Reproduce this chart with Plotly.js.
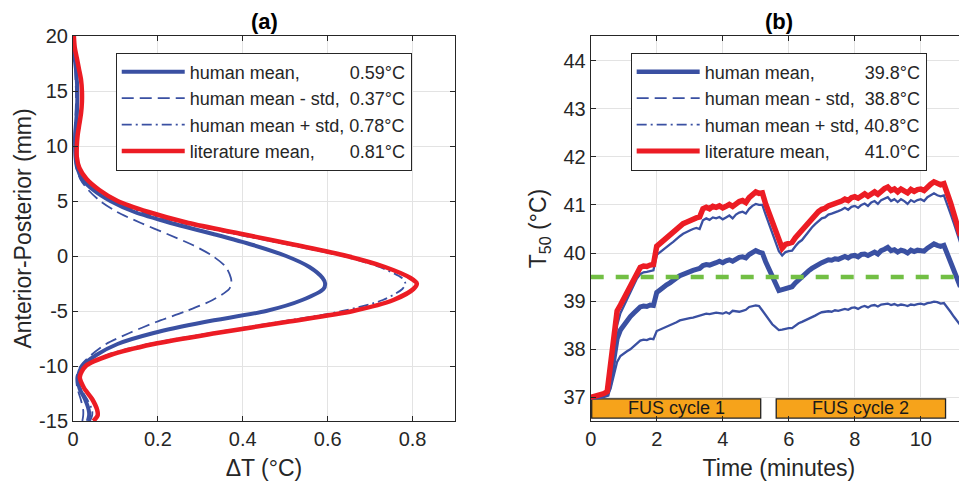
<!DOCTYPE html>
<html><head><meta charset="utf-8">
<script src="https://cdn.plot.ly/plotly-3.0.1.min.js"></script>
<style>html,body{margin:0;padding:0;overflow:hidden;background:#fff}#chart{width:980px;height:483px}</style>
</head><body><div id="chart"></div><script>
// ---------- Panel (a): temperature rise profile ----------
var apPos = [-15,-14.5,-14,-13,-12,-11,-10,-9,-8,-7,-6,-5,-4,-3,-2.5,-2,-1,0,1,2,3,4,5,6,7,8,9,10,11,12,13,14,15,16,17,18,19,20];
var dTHumanMean = [0.035,0.038,0.037,0.028,0.015,0.012,0.022,0.055,0.105,0.19,0.31,0.455,0.54,0.59,0.594,0.588,0.557,0.502,0.424,0.33,0.23,0.145,0.088,0.048,0.022,0.01,0.006,0.005,0.005,0.007,0.009,0.01,0.01,0.009,0.007,0.004,0.002,0.001];
var dTHumanMinus = [0.022,0.024,0.024,0.018,0.01,0.008,0.018,0.043,0.078,0.133,0.196,0.267,0.329,0.368,0.373,0.372,0.36,0.329,0.282,0.222,0.16,0.104,0.064,0.036,0.017,0.008,0.005,0.004,0.004,0.005,0.006,0.007,0.007,0.006,0.005,0.003,0.001,0.0];
var dTHumanPlus = [0.04,0.045,0.045,0.033,0.018,0.016,0.032,0.08,0.178,0.325,0.485,0.635,0.73,0.776,0.783,0.775,0.722,0.635,0.51,0.382,0.256,0.16,0.095,0.054,0.026,0.012,0.007,0.006,0.007,0.009,0.011,0.012,0.012,0.011,0.008,0.005,0.002,0.001];
var dTLiterature = [0.048,0.058,0.057,0.045,0.026,0.016,0.03,0.088,0.19,0.338,0.502,0.66,0.755,0.802,0.81,0.795,0.735,0.645,0.525,0.398,0.272,0.178,0.105,0.062,0.032,0.015,0.009,0.009,0.011,0.015,0.019,0.021,0.021,0.019,0.014,0.009,0.004,0.002];
var legendA = ["human mean,\u00A0\u00A0\u00A0\u00A0\u00A0\u00A0\u00A0\u00A0\u00A0\u00A00.59°C",
               "human mean - std,\u00A0\u00A00.37°C",
               "human mean + std,\u00A00.78°C",
               "literature mean,\u00A0\u00A0\u00A0\u00A0\u00A0\u00A0\u00A00.81°C"];
var aXTicks = [0,0.2,0.4,0.6,0.8];
var aXTickText = ["0","0.2","0.4","0.6","0.8"];
var aYTicks = [-15,-10,-5,0,5,10,15,20];
var aYTickText = ["-15","-10","-5","0","5","10","15","20"];

// ---------- Panel (b): T50 over time ----------
var timeMin = [0,0.1,0.2,0.3,0.4,0.5,0.6,0.7,0.8,0.9,1,1.1,1.2,1.3,1.4,1.5,1.6,1.7,1.8,1.9,2,2.1,2.2,2.3,2.4,2.5,2.6,2.7,2.8,2.9,3,3.1,3.2,3.3,3.4,3.5,3.6,3.7,3.8,3.9,4,4.1,4.2,4.3,4.4,4.5,4.6,4.7,4.8,4.9,5,5.1,5.2,5.3,5.4,5.5,5.6,5.7,5.8,5.9,6,6.1,6.2,6.3,6.4,6.5,6.6,6.7,6.8,6.9,7,7.1,7.2,7.3,7.4,7.5,7.6,7.7,7.8,7.9,8,8.1,8.2,8.3,8.4,8.5,8.6,8.7,8.8,8.9,9,9.1,9.2,9.3,9.4,9.5,9.6,9.7,9.8,9.9,10,10.1,10.2,10.3,10.4,10.5,10.6,10.7,10.8,10.9,11,11.1,11.2];
var t50HumanMean = [37.00,37.00,37.01,37.02,37.04,37.06,37.35,37.78,38.22,38.40,38.50,38.58,38.68,38.75,38.83,38.88,38.90,38.89,38.92,38.91,39.18,39.24,39.28,39.34,39.38,39.42,39.48,39.53,39.56,39.60,39.61,39.64,39.66,39.68,39.74,39.76,39.75,39.79,39.80,39.83,39.80,39.84,39.86,39.83,39.88,39.91,39.92,39.90,39.97,40.02,40.05,40.02,40.00,39.82,39.66,39.50,39.34,39.22,39.24,39.26,39.28,39.30,39.38,39.45,39.52,39.57,39.63,39.68,39.73,39.77,39.80,39.83,39.86,39.85,39.88,39.87,39.90,39.93,39.90,39.94,39.95,39.92,39.97,39.98,39.95,39.99,40.02,39.98,40.05,40.08,40.12,40.05,40.07,40.02,40.06,40.04,40.00,40.06,40.03,40.06,40.06,40.04,40.10,40.14,40.19,40.16,40.14,40.16,39.98,39.80,39.62,39.45,39.30];
var t50HumanMinus = [37.00,37.00,37.00,37.01,37.02,37.05,37.18,37.48,37.74,37.86,37.92,37.96,38.00,38.06,38.14,38.18,38.20,38.19,38.22,38.21,38.38,38.41,38.44,38.46,38.49,38.52,38.56,38.60,38.62,38.63,38.65,38.66,38.68,38.70,38.72,38.74,38.73,38.75,38.76,38.75,38.74,38.77,38.74,38.80,38.79,38.78,38.80,38.82,38.88,38.90,38.91,38.90,38.80,38.72,38.61,38.52,38.46,38.40,38.41,38.43,38.44,38.44,38.50,38.54,38.57,38.60,38.63,38.67,38.70,38.74,38.77,38.78,38.79,38.78,38.81,38.80,38.82,38.84,38.82,38.86,38.87,38.84,38.88,38.90,38.87,38.91,38.92,38.89,38.93,38.94,38.95,38.92,38.94,38.91,38.93,38.92,38.90,38.93,38.92,38.94,38.95,38.93,38.96,38.97,38.99,38.98,38.95,38.96,38.88,38.78,38.68,38.58,38.50];
var t50HumanPlus = [36.99,37.00,37.01,37.03,37.05,37.08,37.45,37.98,38.50,38.75,38.90,39.04,39.20,39.34,39.47,39.56,39.60,39.61,39.63,39.64,39.96,40.02,40.08,40.13,40.18,40.23,40.30,40.35,40.40,40.44,40.47,40.50,40.52,40.50,40.68,40.72,40.69,40.74,40.72,40.75,40.70,40.74,40.78,40.72,40.80,40.84,40.86,40.82,40.92,40.98,41.02,41.00,41.00,40.80,40.60,40.42,40.22,40.04,39.95,40.02,40.04,40.05,40.14,40.22,40.27,40.36,40.44,40.53,40.60,40.66,40.72,40.74,40.80,40.82,40.84,40.87,40.90,40.94,40.90,40.96,40.98,40.94,41.00,41.03,40.98,41.05,41.08,41.02,41.10,41.13,41.16,41.08,41.12,41.06,41.12,41.08,41.02,41.10,41.06,41.10,41.12,41.08,41.16,41.20,41.24,41.20,41.18,41.20,41.03,40.82,40.62,40.40,40.20];
var t50Literature = [37.00,37.02,37.03,37.06,37.08,37.12,37.70,38.25,38.80,38.92,39.05,39.18,39.34,39.48,39.63,39.70,39.73,39.72,39.75,39.76,40.14,40.20,40.27,40.33,40.37,40.43,40.50,40.55,40.61,40.64,40.68,40.70,40.73,40.75,40.92,40.95,40.92,40.97,40.95,40.98,40.94,40.97,41.01,40.97,41.03,41.07,41.09,41.05,41.15,41.22,41.27,41.24,41.25,41.02,40.82,40.62,40.42,40.22,40.10,40.18,40.21,40.22,40.32,40.40,40.46,40.55,40.63,40.72,40.80,40.86,40.91,40.93,40.98,41.00,41.03,41.05,41.08,41.12,41.09,41.15,41.17,41.14,41.20,41.23,41.18,41.24,41.27,41.22,41.30,41.34,41.37,41.30,41.33,41.27,41.33,41.30,41.25,41.32,41.28,41.32,41.33,41.30,41.38,41.43,41.48,41.46,41.42,41.44,41.28,41.05,40.82,40.58,40.36];
var thresholdX = [0, 11.4];
var thresholdY = [39.5, 39.5];
var fusLabels = ["FUS cycle 1", "FUS cycle 2"];
var fusStart = [0.03, 5.62];
var fusEnd = [5.15, 10.75];
var fusLow = 36.57, fusHigh = 36.97;
var legendB = ["human mean,\u00A0\u00A0\u00A0\u00A0\u00A0\u00A0\u00A0\u00A0\u00A0\u00A039.8°C",
               "human mean - std,\u00A0\u00A038.8°C",
               "human mean + std,\u00A040.8°C",
               "literature mean,\u00A0\u00A0\u00A0\u00A0\u00A0\u00A0\u00A041.0°C"];
var bXTicks = [0,2,4,6,8,10];
var bYTicks = [37,38,39,40,41,42,43,44];

// ---------- styles ----------
var BLUE = "#3A50A2", RED = "#EC1C24", GREEN = "#72BF44", ORANGE = "#F6A31B";
var AX = "#262626", GRID = "#E3E3E3";
var FONT = "Liberation Sans, Arial, Helvetica, sans-serif";

var traces = [
  {x: dTHumanMean, y: apPos, xaxis:"x", yaxis:"y", mode:"lines", name: legendA[0], legend:"legend",
   line:{color:BLUE, width:4, shape:"spline", smoothing:0.8}},
  {x: dTHumanMinus, y: apPos, xaxis:"x", yaxis:"y", mode:"lines", name: legendA[1], legend:"legend",
   line:{color:BLUE, width:1.8, dash:"12px,6px", shape:"spline", smoothing:0.8}},
  {x: dTHumanPlus, y: apPos, xaxis:"x", yaxis:"y", mode:"lines", name: legendA[2], legend:"legend",
   line:{color:BLUE, width:1.8, dash:"10px,4px,2px,4px", shape:"spline", smoothing:0.8}},
  {x: dTLiterature, y: apPos, xaxis:"x", yaxis:"y", mode:"lines", name: legendA[3], legend:"legend",
   line:{color:RED, width:4.5, shape:"spline", smoothing:0.8}},

  {x: timeMin, y: t50HumanMean, xaxis:"x2", yaxis:"y2", mode:"lines", showlegend:false,
   line:{color:BLUE, width:5}},
  {x: timeMin, y: t50HumanMinus, xaxis:"x2", yaxis:"y2", mode:"lines", showlegend:false,
   line:{color:BLUE, width:2.3}},
  {x: timeMin, y: t50HumanPlus, xaxis:"x2", yaxis:"y2", mode:"lines", showlegend:false,
   line:{color:BLUE, width:2.3}},
  {x: timeMin, y: t50Literature, xaxis:"x2", yaxis:"y2", mode:"lines", showlegend:false,
   line:{color:RED, width:5.5}},
  {x: thresholdX, y: thresholdY, xaxis:"x2", yaxis:"y2", mode:"lines", showlegend:false,
   line:{color:GREEN, width:4.5, dash:"13px,12px"}},

  {x:[null], y:[null], xaxis:"x2", yaxis:"y2", mode:"lines", name: legendB[0], legend:"legend2", line:{color:BLUE, width:4.5}},
  {x:[null], y:[null], xaxis:"x2", yaxis:"y2", mode:"lines", name: legendB[1], legend:"legend2", line:{color:BLUE, width:1.8, dash:"12px,6px"}},
  {x:[null], y:[null], xaxis:"x2", yaxis:"y2", mode:"lines", name: legendB[2], legend:"legend2", line:{color:BLUE, width:1.8, dash:"10px,4px,2px,4px"}},
  {x:[null], y:[null], xaxis:"x2", yaxis:"y2", mode:"lines", name: legendB[3], legend:"legend2", line:{color:RED, width:5}}
];

function axisBase(extra) {
  var a = {
    showline:true, linecolor:AX, linewidth:1, mirror:"ticks",
    ticks:"inside", ticklen:5, tickwidth:1, tickcolor:AX,
    showgrid:true, gridcolor:GRID, gridwidth:1, zeroline:false,
    tickfont:{family:FONT, size:20, color:AX}, fixedrange:true
  };
  for (var k in extra) a[k] = extra[k];
  return a;
}

var shapes = [], annotations = [];
for (var i = 0; i < fusLabels.length; i++) {
  shapes.push({type:"rect", xref:"x2", yref:"y2", x0:fusStart[i], x1:fusEnd[i], y0:fusLow, y1:fusHigh,
               fillcolor:ORANGE, line:{color:"#222", width:1.3}, layer:"between"});
  annotations.push({xref:"x2", yref:"y2", x:(fusStart[i]+fusEnd[i])/2, y:(fusLow+fusHigh)/2,
               text:fusLabels[i], showarrow:false, font:{family:FONT, size:18, color:"#1a1a1a"}});
}
annotations.push({xref:"paper", yref:"paper", x:0.2137, y:1.037, yanchor:"middle", xanchor:"center",
  text:"<b>(a)</b>", showarrow:false, font:{family:FONT, size:22, color:"#000"}});
annotations.push({xref:"paper", yref:"paper", x:0.7896, y:1.037, yanchor:"middle", xanchor:"center",
  text:"<b>(b)</b>", showarrow:false, font:{family:FONT, size:22, color:"#000"}});

var legendStyle = function(x) {
  return {x:x, y:0.957, xanchor:"left", yanchor:"top", bgcolor:"#fff", bordercolor:AX, borderwidth:1,
          font:{family:FONT, size:18, color:AX}, itemwidth:63, tracegroupgap:0, traceorder:"normal"};
};

var layout = {
  width:980, height:483,
  margin:{l:73, r:13, t:36, b:62},
  paper_bgcolor:"#fff", plot_bgcolor:"#fff",
  font:{family:FONT, color:AX},
  showlegend:true,
  legend: legendStyle(0.0478),
  legend2: legendStyle(0.6238),
  xaxis: axisBase({domain:[0,0.4273], range:[0,0.9], tickvals:aXTicks, ticktext:aXTickText, anchor:"y",
    title:{text:"ΔT (°C)", font:{family:FONT, size:23, color:AX}, standoff:10}}),
  yaxis: axisBase({domain:[0,1], range:[-15,20], tickvals:aYTicks, ticktext:aYTickText, anchor:"x",
    title:{text:"Anterior-Posterior (mm)", font:{family:FONT, size:23, color:AX}, standoff:1}}),
  xaxis2: axisBase({domain:[0.5791,1], range:[0,11.4], tickvals:bXTicks, anchor:"y2",
    title:{text:"Time (minutes)", font:{family:FONT, size:23, color:AX}, standoff:10}}),
  yaxis2: axisBase({domain:[0,1], range:[36.51,44.51], tickvals:bYTicks, anchor:"x2",
    title:{text:"T<sub>50</sub> (°C)", font:{family:FONT, size:23, color:AX}, standoff:10}}),
  shapes:shapes,
  annotations:annotations
};

Plotly.newPlot("chart", traces, layout, {displayModeBar:false, staticPlot:true});
</script></body></html>
